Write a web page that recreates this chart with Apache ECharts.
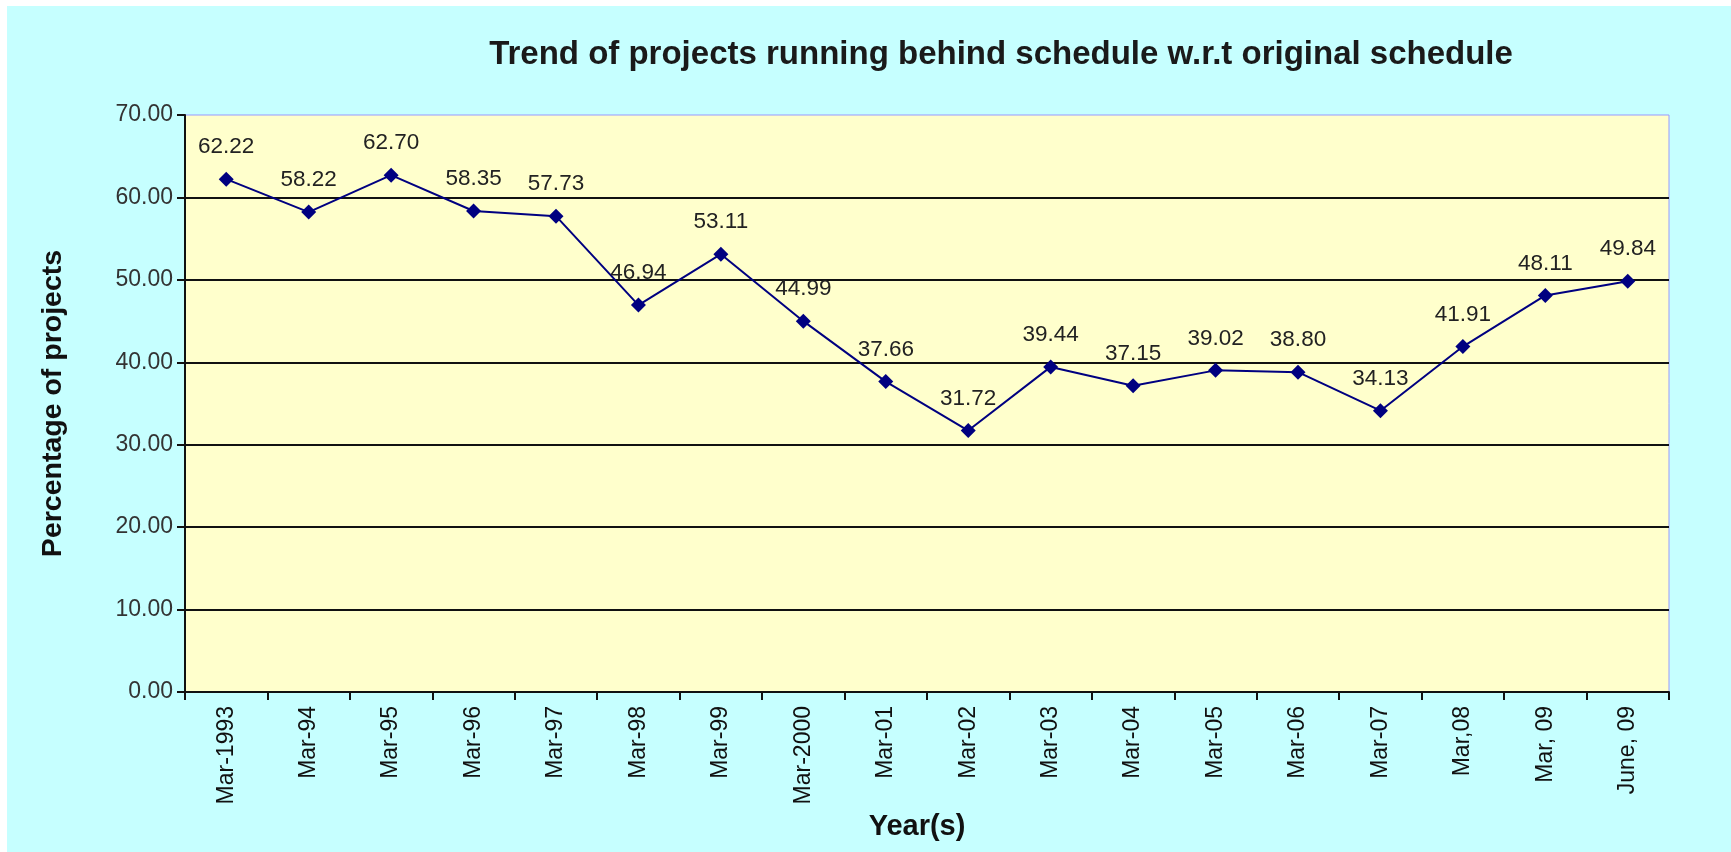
<!DOCTYPE html>
<html><head><meta charset="utf-8">
<script src="https://cdn.jsdelivr.net/npm/echarts@6/dist/echarts.min.js"></script>
<style>html,body{margin:0;padding:0;background:#fff}#c{width:1731px;height:852px}</style>
</head><body><div id="c"></div>
<script>
const categories = ["Mar-1993","Mar-94","Mar-95","Mar-96","Mar-97","Mar-98","Mar-99","Mar-2000","Mar-01","Mar-02","Mar-03","Mar-04","Mar-05","Mar-06","Mar-07","Mar,08","Mar, 09","June, 09"];
const values = [62.22,58.22,62.70,58.35,57.73,46.94,53.11,44.99,37.66,31.72,39.44,37.15,39.02,38.80,34.13,41.91,48.11,49.84];
const titleText = "Trend of projects running behind schedule w.r.t original schedule";
const yName = "Percentage of projects";
const xName = "Year(s)";

const chart = echarts.init(document.getElementById('c'));
const font = 'Liberation Sans, Arial, sans-serif';
chart.setOption({
  backgroundColor: '#ffffff',
  graphic: [{type:'rect', z:-10, shape:{x:7,y:6,width:1724,height:846}, style:{fill:'#C6FFFF'}}],
  title: {text: titleText, left: 996, top: 33, textAlign: 'center',
    textStyle:{fontFamily:font, fontSize:33, fontWeight:'bold', color:'#1a1a1a'}},
  grid: {left:185, right:62, top:115, bottom:160, show:true, backgroundColor:'#FFFFCC', borderColor:'#9999FF', borderWidth:1},
  xAxis: {type:'category', data: categories, boundaryGap:true,
    name: xName, nameLocation:'middle', nameGap:116,
    nameTextStyle:{fontFamily:font, fontSize:29, fontWeight:'bold', color:'#111', padding:[0,20,0,0]},
    axisLine:{lineStyle:{color:'#111', width:2}},
    axisTick:{show:true, alignWithLabel:false, length:8, lineStyle:{color:'#111', width:2}},
    axisLabel:{rotate:90, margin:14, fontFamily:font, fontSize:23, color:'#111', interval:0}},
  yAxis: {type:'value', min:0, max:70, interval:10,
    name: yName, nameLocation:'middle', nameGap:117,
    nameTextStyle:{fontFamily:font, fontSize:28.5, fontWeight:'bold', color:'#111'},
    axisLine:{show:true, lineStyle:{color:'#111', width:2}},
    axisTick:{show:true, length:8, lineStyle:{color:'#111', width:2}},
    axisLabel:{margin:12, fontFamily:font, fontSize:23, color:'#333', formatter: v => v.toFixed(2)},
    splitLine:{show:true, showMaxLine:false, lineStyle:{color:'#111', width:2}}},
  series: [{type:'line', data: values, symbol:'diamond', symbolSize:15,
    lineStyle:{color:'#000080', width:2}, itemStyle:{color:'#000080'},
    label:{show:true, position:'top', distance:13, fontFamily:font, fontSize:22.5, color:'#222', formatter: p => p.value.toFixed(2)},
    animation:false}]
});
</script></body></html>
